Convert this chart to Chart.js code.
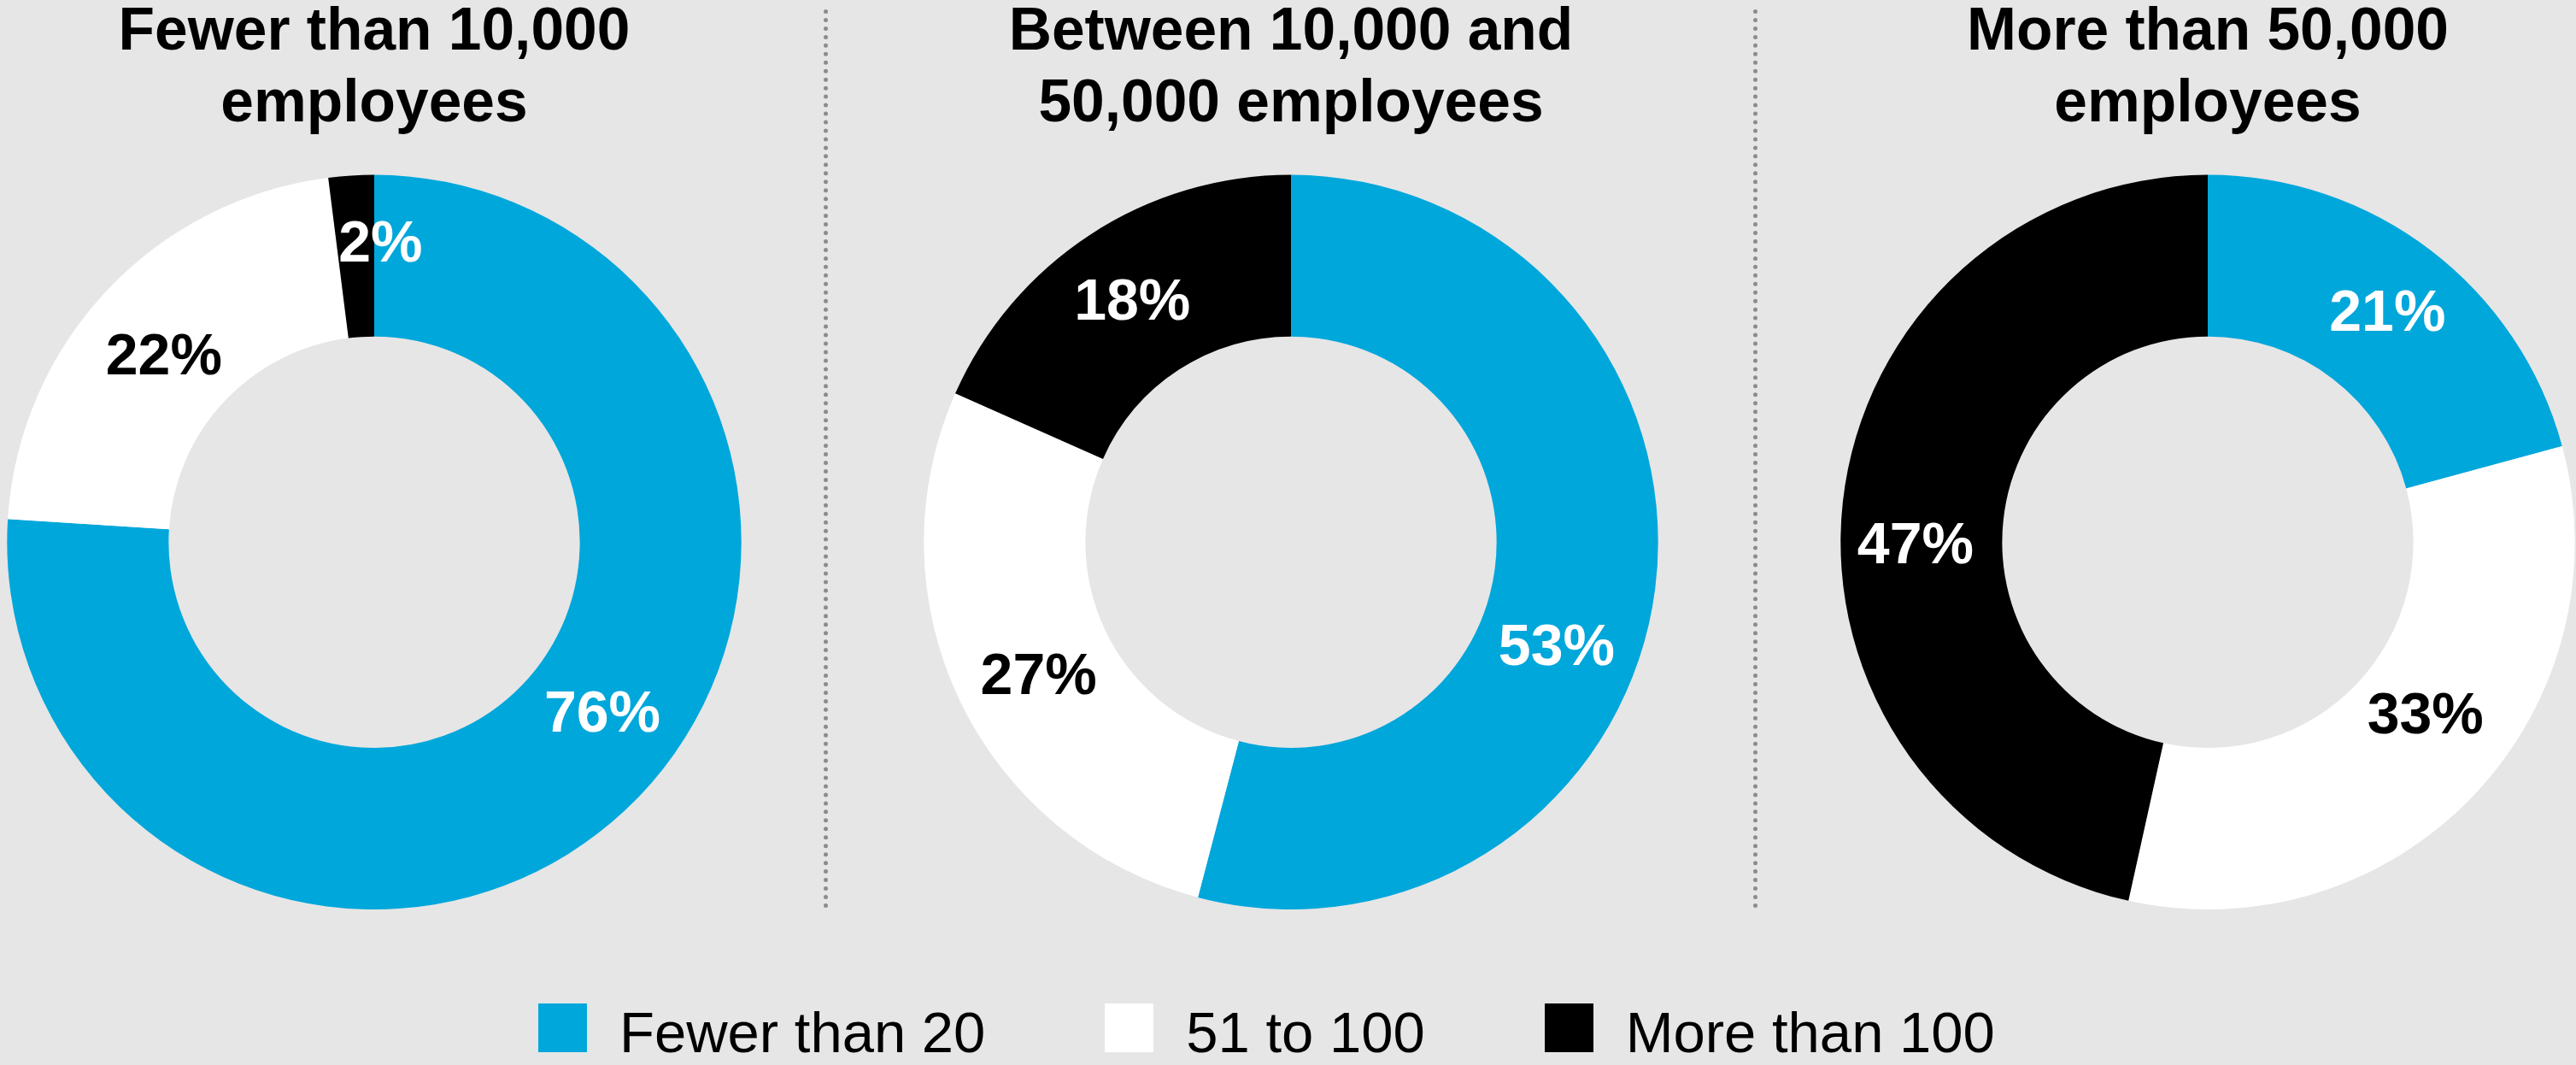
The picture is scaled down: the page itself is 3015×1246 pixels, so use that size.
<!DOCTYPE html>
<html>
<head>
<meta charset="utf-8">
<script src="https://cdn.jsdelivr.net/npm/chart.js@4"></script>
<style>
  html, body { margin: 0; padding: 0; background: #e6e6e6; overflow: hidden; }
  #wrap { position: relative; width: 3015px; height: 1246px; background: #e6e6e6; }
  .panel { position: absolute; top: -4px; }
  .divider { position: absolute; top: 11px; height: 1052px; border-left: 5px dotted #8c8c8c; }
  #legend { position: absolute; left: 630px; top: 1168px; white-space: nowrap;
            font: 67px "Liberation Sans", Arial, sans-serif; color: #000; line-height: 80px; }
  .item { display: inline-block; margin-right: 140px; }
  .item:last-child { margin-right: 0; }
  .swatch { display: inline-block; width: 57px; height: 57px; margin-right: 38px; vertical-align: baseline; }
</style>
</head>
<body>
<div id="wrap">
  <canvas id="c0" class="panel"></canvas>
  <canvas id="c1" class="panel"></canvas>
  <canvas id="c2" class="panel"></canvas>
  <div class="divider" style="left:964px"></div>
  <div class="divider" style="left:2052px"></div>
  <div id="legend"></div>
</div>
<script>
// datos
const categories = ['Fewer than 20', '51 to 100', 'More than 100'];
const under10k = [76, 22, 2];
const from10kTo50k = [53, 27, 18];
const over50k = [21, 33, 47];
const groupTitles = [
  ['Fewer than 10,000', 'employees'],
  ['Between 10,000 and', '50,000 employees'],
  ['More than 50,000', 'employees']
];

const colores = ['#00a7db', '#ffffff', '#000000'];
const tinta = ['#ffffff', '#000000', '#ffffff'];   // color del texto sobre cada segmento
const centros = [438, 1511, 2584];
// ajuste de etiquetas: [grados, px]
const ajustes = [
  [[-9.6, 0], [-2, -8], [4.8, 12]],
  [[14.6, 0], [-2.5, 0], [-0.6, 0]],
  [[0.9, 4], [-4.8, -8], [-7.3, 7]]
];

const etiquetasArco = {
  id: 'etiquetasArco',
  afterDatasetsDraw(chart, args, opts) {
    const ctx = chart.ctx;
    const meta = chart.getDatasetMeta(0);
    const valores = chart.data.datasets[0].data;
    ctx.save();
    ctx.font = 'bold 68px "Liberation Sans", Arial, sans-serif';
    ctx.textAlign = 'center';
    ctx.textBaseline = 'middle';
    meta.data.forEach((arc, i) => {
      const p = arc.getProps(['x', 'y', 'startAngle', 'endAngle', 'innerRadius', 'outerRadius'], true);
      const aj = opts.ajuste[i] || [0, 0];
      const ang = (p.startAngle + p.endAngle) / 2 + aj[0] * Math.PI / 180;
      const r = (p.innerRadius + p.outerRadius) / 2 + aj[1];
      ctx.fillStyle = tinta[i];
      ctx.fillText(valores[i] + '%', p.x + r * Math.cos(ang), p.y + r * Math.sin(ang));
    });
    ctx.restore();
  }
};

[under10k, from10kTo50k, over50k].forEach((serie, g) => {
  const canvas = document.getElementById('c' + g);
  canvas.width = 880;
  canvas.height = 1068;
  canvas.style.left = (centros[g] - 440) + 'px';
  new Chart(canvas.getContext('2d'), {
    type: 'doughnut',
    data: {
      labels: categories,
      datasets: [{
        data: serie,
        backgroundColor: colores,
        borderWidth: 0
      }]
    },
    options: {
      responsive: false,
      animation: false,
      cutout: '56%',
      layout: { padding: 0 },
      plugins: {
        legend: { display: false },
        tooltip: { enabled: false },
        title: {
          display: true,
          text: groupTitles[g],
          color: '#000',
          font: { family: '"Liberation Sans", Arial, sans-serif', size: 69.5, weight: 'bold', lineHeight: 1.22 },
          padding: { top: 0, bottom: 39 }
        },
        etiquetasArco: { ajuste: ajustes[g] }
      }
    },
    plugins: [etiquetasArco]
  });
});

// leyenda
const leyenda = document.getElementById('legend');
categories.forEach((cat, i) => {
  const item = document.createElement('span');
  item.className = 'item';
  item.innerHTML = `<span class="swatch" style="background:${colores[i]}"></span>${cat}`;
  leyenda.appendChild(item);
});
</script>
</body>
</html>
